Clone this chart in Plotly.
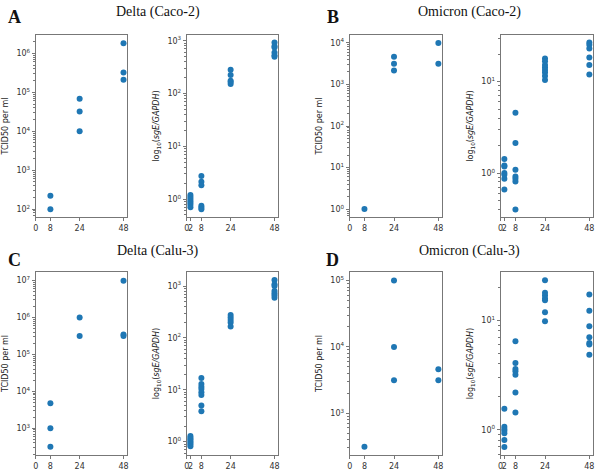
import plotly.graph_objects as go
import math

# ---------------- data ----------------
a_tcid_hours = [8, 8, 24, 24, 24, 48, 48, 48]
a_tcid_vals = [100, 220, 1.0e4, 3.2e4, 6.8e4, 2.1e5, 3.2e5, 1.8e6]

a_sge_hours = [2, 2, 2, 2, 2, 2, 2,
               8, 8, 8, 8, 8, 8,
               24, 24, 24, 24, 24,
               48, 48, 48, 48, 48, 48]
a_sge_vals = [1.2, 1.1, 1.0, 0.92, 0.85, 0.78, 0.7,
              2.75, 2.14, 1.83, 0.75, 0.69, 0.64,
              283, 224, 175, 165, 151,
              930, 800, 745, 600, 535, 500]

b_tcid_hours = [8, 24, 24, 24, 48, 48]
b_tcid_vals = [1, 2180, 3160, 4640, 3160, 1.0e4]

b_sge_hours = [2, 2, 2, 2, 2, 2, 2,
               8, 8, 8, 8, 8, 8, 8,
               24, 24, 24, 24, 24, 24, 24, 24,
               48, 48, 48, 48, 48, 48]
b_sge_vals = [1.43, 1.21, 1.18, 1.0, 0.96, 0.87, 0.66,
              4.56, 2.14, 1.09, 0.92, 0.87, 0.81, 0.40,
              17.9, 16.7, 15.2, 14.3, 13.4, 12.6, 11.5, 10.4,
              26.8, 25.3, 23.0, 18.4, 15.2, 12.0]

c_tcid_hours = [8, 8, 8, 24, 24, 48, 48, 48]
c_tcid_vals = [316, 1000, 4750, 3.16e5, 1.0e6, 3.16e5, 3.5e5, 1.0e7]

c_sge_hours = [2, 2, 2, 2, 2, 2, 2,
               8, 8, 8, 8, 8, 8, 8, 8,
               24, 24, 24, 24, 24,
               48, 48, 48, 48, 48, 48, 48]
c_sge_vals = [1.29, 1.19, 1.11, 1.03, 0.96, 0.89, 0.82,
              16.8, 12.9, 11.4, 10.3, 9.0, 7.9, 4.99, 3.85,
              277, 246, 222, 197, 165,
              1306, 1077, 1000, 801, 722, 661, 596]

d_tcid_hours = [8, 24, 24, 24, 48, 48]
d_tcid_vals = [313, 3135, 1.0e4, 1.0e5, 3135, 4600]

d_sge_hours = [2, 2, 2, 2, 2, 2, 2,
               8, 8, 8, 8, 8, 8, 8,
               24, 24, 24, 24, 24, 24, 24,
               48, 48, 48, 48, 48, 48, 48]
d_sge_vals = [1.56, 1.07, 1.02, 0.98, 0.93, 0.81, 0.70,
              6.43, 4.07, 3.59, 3.42, 3.18, 2.19, 1.44,
              23.2, 17.8, 16.8, 15.8, 15.2, 11.8, 9.8,
              17.2, 12.2, 8.8, 7.0, 6.2, 6.0, 4.85]

panel_titles = ["Delta (Caco-2)", "Omicron (Caco-2)", "Delta (Calu-3)", "Omicron (Calu-3)"]
panel_letters = ["A", "B", "C", "D"]
left_xticks = [0, 8, 24, 48]
right_xticks = [0, 2, 8, 24, 48]
y_title_tcid = "TCID50 per ml"
y_title_sge = "log<sub>10</sub>(<i>sgE/GAPDH</i>)"

# ---------------- layout helpers ----------------
W, H = 600, 471
BLUE = "#1f77b4"
FRAME = "#777777"
TICKFONT = dict(family="DejaVu Sans", size=8, color="#333333")

def xdom(x0, x1):
    return [x0 / W, x1 / W]

def ydom(y0, y1):
    return [1 - y1 / H, 1 - y0 / H]

panels = [
    (a_tcid_hours, a_tcid_vals, (33, 125), (35, 217), (1.80, 6.47), left_xticks, y_title_tcid),
    (a_sge_hours, a_sge_vals, (185, 277), (35, 217), (-0.34, 3.11), right_xticks, y_title_sge),
    (b_tcid_hours, b_tcid_vals, (349, 442), (35, 217), (-0.19, 4.19), left_xticks, y_title_tcid),
    (b_sge_hours, b_sge_vals, (501, 594), (35, 217), (-0.48, 1.51), right_xticks, y_title_sge),
    (c_tcid_hours, c_tcid_vals, (33, 125), (272, 455), (2.276, 7.235), left_xticks, y_title_tcid),
    (c_sge_hours, c_sge_vals, (185, 277), (272, 455), (-0.257, 3.27), right_xticks, y_title_sge),
    (d_tcid_hours, d_tcid_vals, (349, 442), (272, 455), (2.37, 5.13), left_xticks, y_title_tcid),
    (d_sge_hours, d_sge_vals, (501, 594), (272, 455), (-0.229, 1.44), right_xticks, y_title_sge),
]

fig = go.Figure()
layout = {}
for i, (hrs, vals, xd, yd, yr, xt, ytitle) in enumerate(panels, start=1):
    sfx = "" if i == 1 else str(i)
    fig.add_trace(go.Scatter(
        x=hrs, y=vals, mode="markers",
        marker=dict(color=BLUE, size=6, line=dict(width=0)),
        xaxis="x" + sfx, yaxis="y" + sfx, showlegend=False,
        hoverinfo="x+y",
    ))
    exps = list(range(math.ceil(yr[0]), math.floor(yr[1]) + 1))
    layout["xaxis" + sfx] = dict(
        domain=xdom(*xd), anchor="y" + sfx, range=[0, 50],
        tickmode="array", tickvals=xt, ticktext=[str(v) for v in xt],
        tickangle=0, ticks="outside", ticklen=3, tickcolor=FRAME,
        showline=True, mirror=True, linecolor=FRAME, linewidth=1,
        showgrid=False, zeroline=False, tickfont=TICKFONT,
    )
    layout["yaxis" + sfx] = dict(
        domain=ydom(*yd), anchor="x" + sfx, type="log", range=list(yr),
        tickmode="array", tickvals=[10 ** e for e in exps],
        ticktext=["10<sup>%d</sup>" % e for e in exps],
        ticks="outside", ticklen=3, tickcolor=FRAME,
        minor=dict(ticks="outside", ticklen=2, tickcolor=FRAME, dtick="D1", showgrid=False),
        showline=True, mirror=True, linecolor=FRAME, linewidth=1,
        showgrid=False, zeroline=False, tickfont=TICKFONT,
        title=dict(text=ytitle, font=dict(family="DejaVu Sans", size=8, color="#222222"), standoff=6),
    )

annotations = []
title_pos = [(156, 12), (470, 12), (156, 251), (470, 251)]
letter_pos = [(12, 17), (332, 17), (12, 260), (332, 260)]
for t, (tx, ty) in zip(panel_titles, title_pos):
    annotations.append(dict(text=t, x=tx / W, y=1 - ty / H, xref="paper", yref="paper",
                            showarrow=False, xanchor="center", yanchor="middle",
                            font=dict(family="Liberation Serif", size=14, color="#111111")))
for t, (tx, ty) in zip(panel_letters, letter_pos):
    annotations.append(dict(text="<b>%s</b>" % t, x=tx / W, y=1 - ty / H, xref="paper", yref="paper",
                            showarrow=False, xanchor="center", yanchor="middle",
                            font=dict(family="Liberation Serif", size=18, color="#111111")))

fig.update_layout(
    width=W, height=H, margin=dict(l=0, r=0, t=0, b=0),
    paper_bgcolor="white", plot_bgcolor="white",
    annotations=annotations, **layout,
)
fig.write_html("out.html")
